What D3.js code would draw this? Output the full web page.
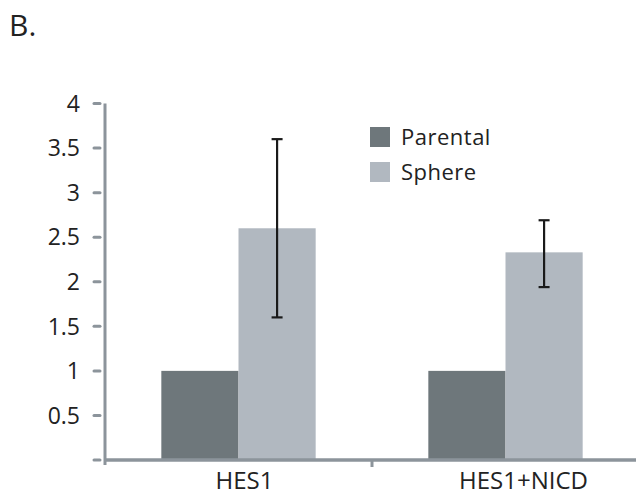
<!DOCTYPE html>
<html><head><meta charset="utf-8">
<script src="https://cdn.jsdelivr.net/npm/d3@7"></script>
<style>body{margin:0;background:#fff}svg{display:block}text{font-family:"Open Sans","Noto Sans",sans-serif;fill:#222}</style>
</head><body>
<svg id="c" width="637" height="497"></svg>
<script>
const categories = ["HES1", "HES1+NICD"];
const series = ["Parental", "Sphere"];
const parental = [1, 1];
const sphere = [2.6, 2.33];
const sphereLow = [1.6, 1.94];
const sphereHigh = [3.6, 2.69];
const yTicks = [0, 0.5, 1, 1.5, 2, 2.5, 3, 3.5, 4];
const colors = ["#6e777b", "#b1b8c0"];

const svg = d3.select("#c");
const y = d3.scaleLinear().domain([0, 4]).range([460, 103.5]);
const x0 = d3.scaleBand().domain(categories).range([105, 639]);
const bw = x0.bandwidth();
const x1 = d3.scaleBand().domain(series).range([0, bw]).paddingInner(0).paddingOuter(0.73);
const vals = [parental, sphere];

// bars
categories.forEach((c, i) => {
  series.forEach((s, j) => {
    svg.append("rect")
      .attr("x", x0(c) + x1(s))
      .attr("y", y(vals[j][i]))
      .attr("width", x1.bandwidth())
      .attr("height", y(0) - y(vals[j][i]))
      .attr("fill", colors[j]);
  });
});

// axes
const axisColor = "#8c949b";
svg.append("line").attr("x1", 105).attr("x2", 105).attr("y1", y(4)).attr("y2", 465)
  .attr("stroke", axisColor).attr("stroke-width", 3);
svg.append("line").attr("x1", 105).attr("x2", 636).attr("y1", y(0)).attr("y2", y(0))
  .attr("stroke", axisColor).attr("stroke-width", 3.5);
yTicks.forEach(t => {
  svg.append("line").attr("x1", 94).attr("x2", 100).attr("y1", y(t)).attr("y2", y(t))
    .attr("stroke", axisColor).attr("stroke-width", 3).attr("stroke-linecap", "round");
  if (t !== 0) svg.append("text").attr("x", 80).attr("y", y(t)).attr("dy", "0.36em")
    .attr("text-anchor", "end").attr("font-size", 23).text(t);
});
// category divider tick
svg.append("line").attr("x1", x0(categories[1])).attr("x2", x0(categories[1]))
  .attr("y1", y(0)).attr("y2", y(0) + 7).attr("stroke", axisColor).attr("stroke-width", 3);

const labelShift = [6, 18];
categories.forEach((c, i) => {
  svg.append("text").attr("x", x0(c) + bw / 2 + labelShift[i]).attr("y", 489).attr("text-anchor", "middle")
    .attr("font-size", 24).text(c);
});

// error bars
categories.forEach((c, i) => {
  const cx = x0(c) + x1("Sphere") + x1.bandwidth() / 2;
  const g = svg.append("g").attr("stroke", "#1a1a1a").attr("stroke-width", 2.2);
  g.append("line").attr("x1", cx).attr("x2", cx).attr("y1", y(sphereHigh[i])).attr("y2", y(sphereLow[i]));
  [sphereHigh[i], sphereLow[i]].forEach(v => {
    g.append("line").attr("x1", cx - 5.5).attr("x2", cx + 5.5).attr("y1", y(v)).attr("y2", y(v));
  });
});

// legend
series.forEach((s, j) => {
  const ly = 127 + j * 35;
  svg.append("rect").attr("x", 370).attr("y", ly).attr("width", 20).attr("height", 20).attr("fill", colors[j]);
  svg.append("text").attr("x", 401).attr("y", ly + 10).attr("dy", "0.36em").attr("font-size", 22)
    .attr("letter-spacing", 0.5).text(s);
});

svg.append("text").attr("x", 9).attr("y", 36).attr("font-size", 30).text("B.");
</script>
</body></html>
